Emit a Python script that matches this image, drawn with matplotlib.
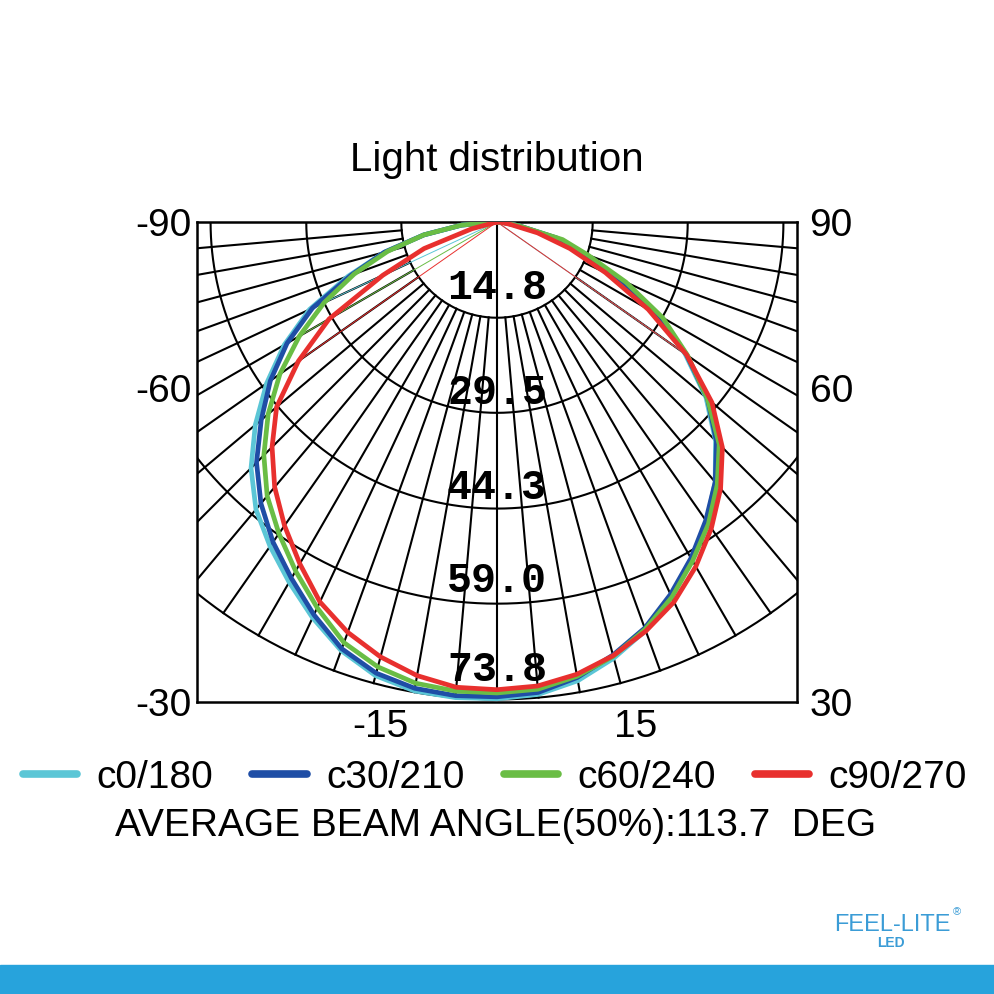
import numpy as np
import matplotlib.pyplot as plt
from matplotlib.lines import Line2D
from matplotlib.patches import Rectangle

# intensity per gamma angle (deg, 0 = straight down)
angles = np.arange(-90, 91, 5)
c0_180 = [0, 5.5, 11.5, 18, 24.5, 32, 38, 43.5, 48.8, 53.8, 58.0, 61.2, 64.3, 67.5, 70.5, 72.6, 73.6, 73.8,
          73.7,
          73.3, 72.0, 69.8, 67.2, 63.8, 60.3, 56.5, 52.5, 47.8, 42.2, 35.5, 28.7, 21.0, 14.5, 9.5, 3.5, 1.0, 0]
c30_210 = [0, 5.5, 11.5, 18, 24, 31.5, 37.5, 42.8, 47.6, 52.6, 56.8, 60.4, 63.6, 67.0, 70.2, 72.2, 73.2, 73.5,
           73.4,
           73.0, 71.5, 69.3, 66.8, 63.5, 60.0, 56.3, 52.5, 48.0, 42.5, 35.8, 29.0, 21.0, 14.5, 9.5, 3.5, 1.0, 0]
c60_240 = [0, 5.5, 11.5, 17.5, 23.5, 29.5, 35.3, 41.0, 46.2, 51.0, 55.3, 58.8, 62.3, 65.8, 69.2, 71.2, 72.4, 72.8,
           72.8,
           72.5, 71.3, 69.5, 67.0, 64.0, 60.5, 57.0, 53.0, 48.6, 42.5, 36.0, 29.6, 22.0, 15.0, 10.5, 3.5, 1.0, 0]
c90_270 = [0, 0, 0, 4, 12, 19.5, 30, 37.5, 44.5, 49.2, 53.5, 57.3, 61.0, 64.8, 67.5, 69.6, 71.2, 72.2,
           72.3,
           72.0, 71.0, 69.4, 67.3, 64.8, 61.5, 57.8, 53.8, 49.3, 43.4, 35.8, 27.0, 18.5, 12.0, 6.5, 2.0, 0.5, 0]

series = [c0_180, c30_210, c60_240, c90_270]
names = ['c0/180', 'c30/210', 'c60/240', 'c90/270']
colors = ['#5bc6d6', '#1f4ea6', '#6abd45', '#e8302e']
# thin closing lines from the source to a point of the curve
thin_lines = [(0, -65), (2, -60), (3, -55), (0, 55), (3, 55)]

rings = [14.8, 29.5, 44.3, 59.0, 73.8]
ring_label_gap = [2.9, 1.4, 1.5, 1.8, 2.9]
spokes = np.arange(-85, 90, 5)

left_ticks = [0, -25.7, -74.2]
left_labels = ['-90', '-60', '-30']
right_labels = ['90', '60', '30']
bottom_ticks = [-18.1, 21.5]
bottom_labels = ['-15', '15']

plt.rcParams['font.family'] = ['Liberation Sans', 'DejaVu Sans']

fig = plt.figure(figsize=(9.94, 9.94), dpi=100)
ax = fig.add_axes([197 / 994, 1 - 702 / 994, 600 / 994, 480 / 994])
ax.set_xlim(-46.4, 46.4)
ax.set_ylim(-74.2, 0)


def polar_xy(r, deg):
    t = np.radians(deg)
    return np.asarray(r) * np.sin(t), -np.asarray(r) * np.cos(t)


# grid
t = np.linspace(-90, 90, 361)
for r in rings:
    x, y = polar_xy(r, t)
    ax.plot(x, y, color='black', lw=1.5, zorder=1)
for a in spokes:
    start = 0 if a == 0 else rings[0]
    x, y = polar_xy([start, rings[-1]], a)
    ax.plot(x, y, color='black', lw=1.5, zorder=1)

for r, gap in zip(rings, ring_label_gap):
    ax.text(0, -(r - gap), f'{r:.1f}', ha='center', va='baseline',
            family='Liberation Mono', weight='bold', size=30, zorder=4)

# curves
for vals, c in zip(series, colors):
    x, y = polar_xy(vals, angles)
    ax.plot(x, y, color=c, lw=3.4, zorder=3, solid_joinstyle='round')
for i, a in thin_lines:
    r = series[i][list(angles).index(a)]
    x, y = polar_xy([0, r], a)
    ax.plot(x, y, color=colors[i], lw=0.7, zorder=2)

for s in ax.spines.values():
    s.set_linewidth(1.8)

ax.set_yticks(left_ticks, left_labels)
ax.set_xticks(bottom_ticks, bottom_labels)
ax.tick_params(length=0, labelsize=28)
ax.tick_params(axis='y', pad=4)
ax.tick_params(axis='x', pad=5)
ax2 = ax.twinx()
ax2.set_ylim(ax.get_ylim())
ax2.set_yticks(left_ticks, right_labels)
ax2.tick_params(length=0, labelsize=28, pad=9)
for s in ax2.spines.values():
    s.set_visible(False)

fig.text(0.5, 1 - 160 / 994, 'Light distribution', ha='center', va='center', size=29)

handles = [Line2D([], [], color=c, lw=5.5, solid_capstyle='round') for c in colors]
fig.legend(handles, names, ncol=4, frameon=False, fontsize=28, loc='center',
           bbox_to_anchor=(0.498, 1 - 778 / 994), handlelength=1.4,
           handletextpad=0.5, columnspacing=1.0)

fig.text(0.499, 1 - 826 / 994, 'AVERAGE BEAM ANGLE(50%):113.7  DEG',
         ha='center', va='center', size=28)

# logo + bottom band
fig.text(892 / 994, 1 - 925 / 994, 'FEEL-LITE', ha='center', va='center',
         size=17, color='#3b9cd6')
fig.text(891 / 994, 1 - 943 / 994, 'LED', ha='center', va='center',
         size=10, weight='bold', color='#3b9cd6')
fig.text(957 / 994, 1 - 912 / 994, '®', ha='center', va='center',
         size=8, color='#3b9cd6')
fig.patches.append(Rectangle((0, 0), 1, 29 / 994, transform=fig.transFigure,
                             color='#27a3dc', zorder=0))

fig.savefig('out.png', dpi=100)
